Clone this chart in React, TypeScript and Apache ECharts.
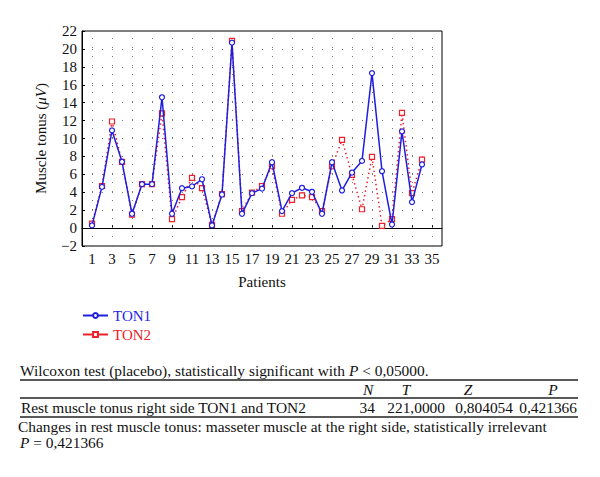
import React, { useEffect, useRef } from "react";
import * as echarts from "echarts";

const patients = Array.from({ length: 34 }, (_, i) => i + 1);
const ton1 = [0.3, 4.6, 10.9, 7.4, 1.6, 4.9, 4.9, 14.6, 1.6, 4.45, 4.65, 5.45, 0.3, 3.75, 20.7, 1.6, 3.9, 4.4, 7.35, 1.9, 3.9, 4.5, 4.05, 1.6, 7.35, 4.2, 6.2, 7.5, 17.3, 6.35, 0.4, 10.8, 2.9, 7.1];
const ton2 = [0.5, 4.7, 11.9, 7.4, 1.5, 4.9, 4.9, 12.8, 1.0, 3.45, 5.6, 4.45, 0.35, 3.8, 20.9, 1.9, 3.95, 4.7, 6.9, 1.6, 3.15, 3.65, 3.45, 1.9, 6.9, 9.85, 5.95, 2.1, 7.95, 0.25, 1.0, 12.85, 3.9, 7.65];
const xTicks = [1, 3, 5, 7, 9, 11, 13, 15, 17, 19, 21, 23, 25, 27, 29, 31, 33, 35];

const tableHead = ["N", "T", "Z", "P"];
const tableRow = ["34", "221,0000", "0,804054", "0,421366"];

const FONT = "'Liberation Serif', 'DejaVu Serif', serif";
const BLUE = "#1e1ee0";
const RED = "#f0202a";
const TFS = 15.4;

export default function App() {
  const ref = useRef<HTMLDivElement>(null);
  useEffect(() => {
    document.body.style.margin = "0";
    const chart = echarts.init(ref.current!, undefined, { renderer: "svg" });
    const headX = [368, 406, 468, 553];
    const rowX = [375, 445, 513, 577];
    const ital = { i: { fontStyle: "italic", fontSize: TFS, fontFamily: FONT, fill: "#111" } };
    const graphic: any[] = [
      {
        type: "text", x: 20, y: 370,
        style: {
          text: "Wilcoxon test (placebo), statistically significant with {i|P} < 0,05000.",
          font: `${TFS}px ${FONT}`, fill: "#111", verticalAlign: "middle", rich: ital,
        },
      },
      { type: "line", shape: { x1: 20, y1: 380, x2: 578, y2: 380 }, style: { stroke: "#222", lineWidth: 1.5 } },
      { type: "line", shape: { x1: 20, y1: 398, x2: 578, y2: 398 }, style: { stroke: "#222", lineWidth: 1.5 } },
      { type: "line", shape: { x1: 20, y1: 417, x2: 578, y2: 417 }, style: { stroke: "#222", lineWidth: 1.5 } },
      {
        type: "text", x: 21, y: 407,
        style: { text: "Rest muscle tonus right side TON1 and TON2", font: `${TFS}px ${FONT}`, fill: "#111", verticalAlign: "middle" },
      },
      {
        type: "text", x: 18, y: 426,
        style: { text: "Changes in rest muscle tonus: masseter muscle at the right side, statistically irrelevant", font: `${TFS}px ${FONT}`, fill: "#111", verticalAlign: "middle" },
      },
      {
        type: "text", x: 20, y: 442,
        style: { text: "{i|P} = 0,421366", font: `${TFS}px ${FONT}`, fill: "#111", verticalAlign: "middle", rich: ital },
      },
    ];
    tableHead.forEach((h, k) => {
      graphic.push({
        type: "text", x: headX[k], y: 389,
        style: { text: h, font: `italic ${TFS}px ${FONT}`, fill: "#111", align: "center", verticalAlign: "middle" },
      });
    });
    tableRow.forEach((v, k) => {
      graphic.push({
        type: "text", x: rowX[k], y: 407,
        style: { text: v, font: `${TFS}px ${FONT}`, fill: "#111", align: "right", verticalAlign: "middle" },
      });
    });

    chart.setOption({
      animation: false,
      backgroundColor: "#fff",
      textStyle: { fontFamily: FONT },
      grid: { left: 82, right: 158, top: 31, bottom: 231, show: true, borderColor: "#000", borderWidth: 1 },
      legend: {
        orient: "vertical", left: 82, top: 308, padding: 0, itemWidth: 25, itemHeight: 6, itemGap: 4,
        data: [
          { name: "TON1", textStyle: { color: BLUE, fontFamily: "Liberation Serif", fontSize: 15 } },
          { name: "TON2", textStyle: { color: RED, fontFamily: "Liberation Serif", fontSize: 15 }, lineStyle: { type: "solid", color: RED } },
        ],
        textStyle: { fontFamily: "Liberation Serif", fontSize: 15 },
      },
      xAxis: {
        type: "value", min: 0, max: 36, interval: 1,
        name: "Patients", nameLocation: "middle", nameGap: 28,
        nameTextStyle: { fontFamily: FONT, fontSize: 15, color: "#111" },
        axisLine: { show: true, lineStyle: { color: "#000" } },
        axisTick: { show: true, inside: true, length: 3, customValues: xTicks, lineStyle: { color: "#000" } },
        axisLabel: { customValues: xTicks, margin: 5, fontFamily: FONT, fontSize: 15, color: "#111" },
        splitLine: { show: false },
      },
      yAxis: {
        type: "value", min: -2, max: 22, interval: 2,
        name: "Muscle tonus ({i|μV})", nameLocation: "middle", nameGap: 34,
        nameTextStyle: {
          fontFamily: FONT, fontSize: 15, color: "#111",
          rich: { i: { fontStyle: "italic", fontFamily: FONT, fontSize: 15, color: "#111" } },
        },
        axisLine: { show: true, lineStyle: { color: "#000" } },
        axisTick: { show: true, inside: true, length: 3, lineStyle: { color: "#000" } },
        axisLabel: {
          margin: 5, fontFamily: FONT, fontSize: 15, color: "#111",
          formatter: (v: number) => (v < 0 ? "\u2212" + Math.abs(v) : String(v)),
        },
        splitLine: { show: true, lineStyle: { color: "#777", type: [1, 9], width: 1 } },
      },
      series: [
        {
          name: "TON2", type: "line",
          data: patients.map((p, i) => [p, ton2[i]]),
          symbol: "rect", symbolSize: 5,
          lineStyle: { color: RED, width: 1.5, type: [1.5, 3] },
          itemStyle: { color: "#fff", borderColor: RED, borderWidth: 1.2 },
          z: 2,
          markLine: {
            silent: true, symbol: "none", label: { show: false },
            lineStyle: { color: "#777", type: [1, 8], width: 1 },
            data: xTicks.map((v) => ({ xAxis: v })),
            z: 1,
          },
        },
        {
          name: "TON1", type: "line",
          data: patients.map((p, i) => [p, ton1[i]]),
          symbol: "circle", symbolSize: 5,
          lineStyle: { color: BLUE, width: 1.5 },
          itemStyle: { color: "#fff", borderColor: BLUE, borderWidth: 1.2 },
          z: 3,
        },
      ],
      graphic,
    });
    return () => chart.dispose();
  }, []);
  return <div ref={ref} style={{ width: 600, height: 477 }} />;
}
